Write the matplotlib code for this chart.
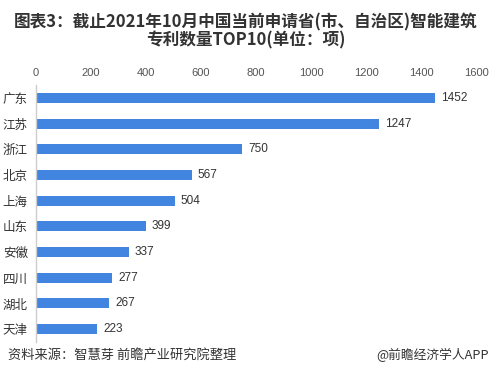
import matplotlib.pyplot as plt

plt.rcParams['font.family'] = ['Noto Sans CJK SC', 'DejaVu Sans']

provinces = ['广东', '江苏', '浙江', '北京', '上海', '山东', '安徽', '四川', '湖北', '天津']
patents = [1452, 1247, 750, 567, 504, 399, 337, 277, 267, 223]
ticks = [0, 200, 400, 600, 800, 1000, 1200, 1400, 1600]

fig = plt.figure(figsize=(4.92, 3.87), dpi=100)
ax = fig.add_axes([36 / 492, 1 - 342 / 387, 440 / 492, 257 / 387])

pos = range(len(provinces))
ax.barh(pos, patents, height=0.39, color='#4285e0')
for i, v in enumerate(patents):
    ax.text(v + 22, i, str(v), va='center', ha='left', fontsize=8.5, color='#333333',
            family=['Liberation Sans', 'DejaVu Sans'])

ax.set_ylim(len(provinces) - 0.5, -0.5)
ax.set_xlim(0, 1600)
ax.set_yticks(list(pos))
ax.set_yticklabels(provinces, fontsize=9, color='#333333')
ax.set_xticks(ticks)
ax.set_xticklabels([str(t) for t in ticks], fontsize=8, color='#555555',
                   family=['Liberation Sans', 'DejaVu Sans'])
ax.xaxis.tick_top()
ax.tick_params(axis='x', length=0, pad=5)
ax.tick_params(axis='y', length=0, pad=6)
for s in ['top', 'right', 'bottom']:
    ax.spines[s].set_visible(False)
ax.spines['left'].set_color('#cccccc')
ax.spines['left'].set_linewidth(1)

fig.text(0.5, 1 - 31 / 387, '图表3：截止2021年10月中国当前申请省(市、自治区)智能建筑\n专利数量TOP10(单位：项)',
         ha='center', va='center', fontsize=12, fontweight='bold', color='#333333',
         linespacing=1.0)

fig.text(8 / 492, 1 - 355 / 387, '资料来源：智慧芽 前瞻产业研究院整理', ha='left', va='center',
         fontsize=9.5, color='#333333')
fig.text(489 / 492, 1 - 355 / 387, '@前瞻经济学人APP', ha='right', va='center',
         fontsize=9.2, color='#333333')

fig.savefig('out.png', dpi=100)
